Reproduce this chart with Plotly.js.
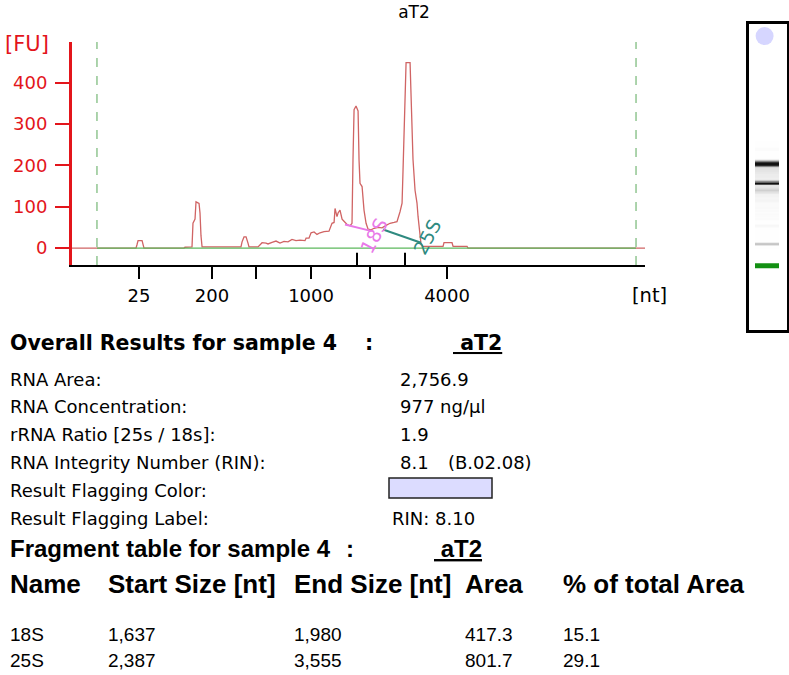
<!DOCTYPE html>
<html><head><meta charset="utf-8">
<script src="https://cdn.plot.ly/plotly-3.0.1.min.js"></script>
<style>html,body{margin:0;padding:0;background:#fff;} #chart{width:789px;height:675px;}</style>
</head><body><div id="chart"></div>
<script>
// ---- Electropherogram data: migration time (s) vs fluorescence (FU) ----
const traceTime = [17.00,22.92,23.01,23.11,23.48,23.57,23.66,27.36,27.45,28.10,28.19,28.38,28.47,28.75,28.84,28.93,29.03,
  32.63,32.73,32.91,33.10,33.28,33.37,34.21,34.39,34.58,34.95,35.13,35.50,35.87,36.24,36.61,36.98,37.35,37.72,38.09,38.55,
  38.65,38.92,39.11,39.39,39.66,39.94,40.31,40.77,41.05,41.24,41.33,41.51,41.61,41.79,41.98,42.16,42.44,42.72,42.90,42.99,
  43.09,43.27,43.46,43.55,43.64,43.83,44.01,44.20,44.38,44.66,44.94,45.31,45.68,46.05,46.42,46.79,47.06,47.34,47.53,47.62,
  47.71,47.90,48.27,48.36,48.45,48.54,48.73,48.91,49.01,49.19,49.28,49.47,51.32,51.41,52.15,52.25,53.54,53.63,70.00];
const traceFU = [0,0,8,18,18,8,0,0,2,3,60,70,112,108,85,30,3,
  3,15,27,27,12,3,3,7,13,12,10,14,17,12,16,15,21,18,19,18,
  24,24,37,39,33,37,40,41,60,62,96,76,85,92,70,65,57,54,60,213,
  335,344,332,213,157,149,92,60,46,44,48,50,49,55,60,62,64,88,109,189,
  262,449,449,375,270,215,140,109,76,27,10,4,4,13,13,4,4,0,0];
const ladderTime = [23.20, 29.95, 34.02, 39.11, 44.57, 51.69];
const ladderLabels = ['25', '200', '', '1000', '', '4000'];
const alignLineTime = [19.31, 69.17];
const yTicks = [0, 100, 200, 300, 400];
const fragmentNames = ['18S', '25S'];
const fragmentColors = ['#e879e8', '#2f8a80'];
const fragmentPeakTime = [43.36, 47.80];
const fragmentStartTime = [42.25, 45.77];
const fragmentEndTime = [44.72, 49.28];
const fragmentStartFU = [57, 45];
const fragmentEndFU = [41, 13];
const fragmentLabelTime = [44.90, 49.84];
const fragmentLabelFU = [29, 27];
const lowerMarkerTime = 23.30;
// ---- Results text ----
const resultLabels = ['RNA Area:', 'RNA Concentration:', 'rRNA Ratio [25s / 18s]:', 'RNA Integrity Number (RIN):', 'Result Flagging Color:', 'Result Flagging Label:'];
const resultValues = ['2,756.9', '977 ng/µl', '1.9', '8.1', '', 'RIN: 8.10'];
const rinVersion = '(B.02.08)';
const tableHeader = ['Name', 'Start Size [nt]', 'End Size [nt]', 'Area', '% of total Area'];
const fragStartSize = ['1,637', '2,387'];
const fragEndSize = ['1,980', '3,555'];
const fragArea = ['417.3', '801.7'];
const fragPct = ['15.1', '29.1'];
const sampleName = 'aT2';
const sampleNo = 4;

const W = 789, H = 675;
const px = v => v / W, py = v => 1 - v / H;
const RED = '#e3151b';
const V = 'DejaVu Sans';
const A = 'Liberation Sans';

const traces = [];
traces.push({x: traceTime, y: traceFU, mode: 'lines', line: {color: '#d06464', width: 1.3}, hoverinfo: 'skip', xaxis: 'x', yaxis: 'y'});
traces.push({x: alignLineTime, y: [0, 0], mode: 'lines', line: {color: '#5cb85c', width: 1.2}, hoverinfo: 'skip'});
fragmentNames.forEach((n, i) => {
  traces.push({x: [fragmentStartTime[i], fragmentEndTime[i]], y: [fragmentStartFU[i], fragmentEndFU[i]], mode: 'lines',
    line: {color: fragmentColors[i], width: 2}, hoverinfo: 'skip'});
});
// gel lane (virtual gel from the same fluorescence trace)
traces.push({type: 'heatmap', x: [0], y: traceTime, z: traceFU.map(v => [v]), xaxis: 'x2', yaxis: 'y2',
  zmin: 0, zmax: 260, showscale: false, hoverinfo: 'skip',
  colorscale: [[0, '#ffffff'], [0.15, '#f4f4f4'], [0.45, '#b8b8b8'], [1, '#111111']]});
traces.push({x: [-0.5, 0.5], y: [lowerMarkerTime, lowerMarkerTime], mode: 'lines', line: {color: '#139013', width: 5},
  xaxis: 'x2', yaxis: 'y2', hoverinfo: 'skip'});
traces.push({x: [-0.1], y: [79.3], mode: 'markers', marker: {color: '#d6d6ff', size: 18}, xaxis: 'x2', yaxis: 'y2', hoverinfo: 'skip'});

const shapes = [];
alignLineTime.forEach(t => shapes.push({type: 'line', xref: 'x', yref: 'y domain', x0: t, x1: t, y0: 0, y1: 1,
  line: {color: '#5aa85a', width: 1, dash: 'dash'}}));
fragmentPeakTime.forEach(t => shapes.push({type: 'line', xref: 'x', yref: 'y domain', x0: t, x1: t, y0: 0, y1: 0.055,
  line: {color: '#000', width: 2}}));
// flag colour box
shapes.push({type: 'rect', xref: 'paper', yref: 'paper', x0: px(389), x1: px(492), y0: py(498), y1: py(478),
  fillcolor: '#dcdcff', line: {color: '#222', width: 1.5}});

const ann = [];
const txt = (x, y, text, size, opts = {}) => ann.push(Object.assign({xref: 'paper', yref: 'paper', x: px(x), y: py(y),
  text, showarrow: false, xanchor: 'left', yanchor: 'middle', font: {family: V, size, color: '#000'}}, opts));
txt(27, 44, '[FU]', 21, {xanchor: 'center', font: {family: V, size: 21, color: RED}});
txt(649, 295, '[nt]', 19.5, {xanchor: 'center'});
fragmentNames.forEach((n, i) => ann.push({xref: 'x', yref: 'y', x: fragmentLabelTime[i], y: fragmentLabelFU[i], text: n,
  showarrow: false, textangle: -62, font: {family: V, size: 19, color: fragmentColors[i]}}));
txt(8, 343, '<b>Overall Results for sample ' + sampleNo + '</b>', 20.5);
txt(363, 343, '<b>:</b>', 20.5);
txt(451, 343, '<b><u>\u00a0' + sampleName + '</u></b>', 20.5);
resultLabels.forEach((l, i) => {
  const y = 379 + i * 27.8;
  txt(8, y, l, 18);
  if (resultValues[i]) txt(i === 5 ? 390 : 398, y, resultValues[i], 18);
});
txt(446, 379 + 3 * 27.8, rinVersion, 18);
txt(8, 548, '<b>Fragment table for sample ' + sampleNo + '</b>', 24, {font: {family: A, size: 24, color: '#000'}});
txt(344, 548, '<b>:</b>', 24, {font: {family: A, size: 24, color: '#000'}});
txt(432, 548, '<b><u>\u00a0' + sampleName + '</u></b>', 24, {font: {family: A, size: 24, color: '#000'}});
const colX = [8, 106, 292, 463, 561];
tableHeader.forEach((h, j) => txt(colX[j], 584, '<b>' + h + '</b>', 26, {font: {family: A, size: 26, color: '#000'}}));
fragmentNames.forEach((n, i) => {
  const y = 634 + i * 26;
  [n, fragStartSize[i], fragEndSize[i], fragArea[i], fragPct[i]].forEach((v, j) =>
    txt(colX[j], y, v, 19, {font: {family: A, size: 19, color: '#000'}}));
});

const layout = {
  width: W, height: H, margin: {l: 0, r: 0, t: 0, b: 0}, paper_bgcolor: '#fff', plot_bgcolor: '#fff', showlegend: false,
  title: {text: sampleName, x: px(414), y: py(12), xanchor: 'center', yanchor: 'middle', xref: 'paper', yref: 'paper',
    font: {family: V, size: 17, color: '#000'}},
  xaxis: {domain: [px(72), px(645)], range: [17, 70], showline: true, linecolor: '#000', linewidth: 2, ticks: 'outside',
    ticklen: 12, tickwidth: 2, tickcolor: '#000', tickvals: ladderTime, ticktext: ladderLabels, showgrid: false, zeroline: false,
    tickfont: {family: V, size: 18, color: '#000'}, ticklabelstandoff: 1, fixedrange: true},
  yaxis: {domain: [py(265), py(42)], range: [-41, 499], showline: true, linecolor: RED, linewidth: 3, ticks: 'outside',
    ticklen: 14, tickwidth: 2, tickcolor: RED, tickvals: yTicks, showgrid: false, zeroline: false,
    tickfont: {family: V, size: 18, color: RED}, ticklabelstandoff: 4, fixedrange: true},
  xaxis2: {domain: [px(748.5), px(786.5)], range: [-0.771, 0.8125], anchor: 'y2', showline: true, mirror: true, linecolor: '#000',
    linewidth: 3, showticklabels: false, ticks: '', showgrid: false, zeroline: false, fixedrange: true},
  yaxis2: {domain: [py(330), py(24)], range: [7.61, 82.24], anchor: 'x2', showline: true, mirror: true, linecolor: '#000',
    linewidth: 3, showticklabels: false, ticks: '', showgrid: false, zeroline: false, fixedrange: true},
  shapes, annotations: ann
};
Plotly.newPlot('chart', traces, layout, {displayModeBar: false, staticPlot: true});
</script></body></html>
